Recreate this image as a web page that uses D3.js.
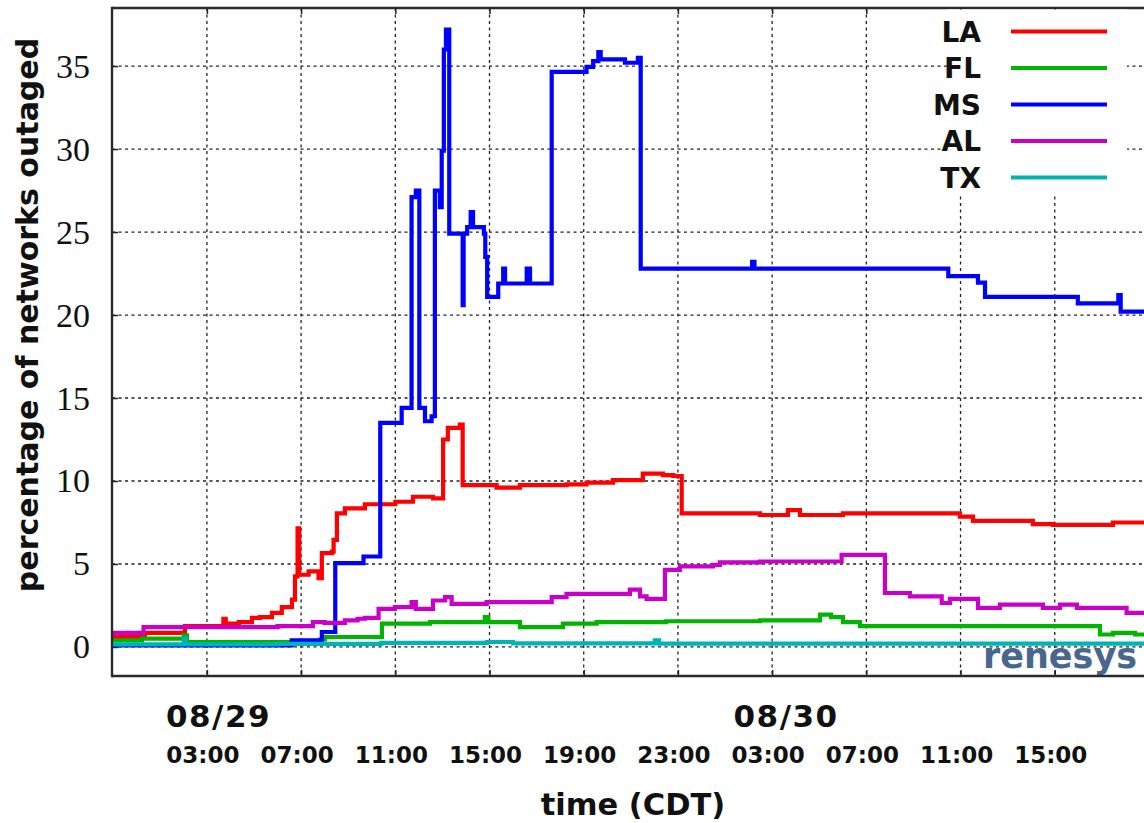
<!DOCTYPE html>
<html>
<head>
<meta charset="utf-8">
<script src="https://cdn.jsdelivr.net/npm/d3@7"></script>
<style>
  html, body { margin: 0; padding: 0; background: #fff; }
  svg { display: block; }
</style>
</head>
<body>
<svg id="chart" width="1144" height="823"></svg>
<script>
// ---- data: [hours since 2005-08-29 00:00 CDT, percent] (step after) ----
const seriesNames = ["LA", "FL", "MS", "AL", "TX"];
const seriesColors = ["#ff0000", "#00b400", "#0000ff", "#c800c8", "#00b4b4"];

const LA = [[-1.03,0.6],[0.37,0.85],[2.07,1.25],[3.7,1.7],[3.8,1.4],[4.36,1.5],[4.91,1.75],[5.25,1.8],[5.76,2.05],[6.18,2.4],[6.61,2.85],[6.74,4.25],[6.85,7.15],[6.92,4.35],[7.32,4.55],[7.74,4.15],[7.88,5.65],[8.31,5.75],[8.38,6.45],[8.52,8.05],[8.86,8.35],[9.71,8.6],[11.0,8.75],[11.75,9.05],[12.6,8.95],[13.03,12.5],[13.23,13.2],[13.74,13.4],[13.86,9.75],[15.3,9.6],[16.29,9.75],[18.27,9.8],[19.12,9.9],[20.24,10.05],[21.51,10.45],[22.36,10.35],[22.8,10.3],[23.16,8.05],[26.48,7.95],[27.67,8.25],[28.18,7.95],[30.01,8.05],[34.97,7.85],[35.53,7.6],[38.07,7.4],[38.93,7.35],[41.47,7.5],[42.79,7.5]];
const FL = [[-1.03,0.4],[0.24,0.5],[2.01,0.7],[2.15,0.3],[7.8,0.45],[8.01,0.6],[10.43,1.4],[12.47,1.5],[14.8,1.8],[14.95,1.5],[16.29,1.2],[18.12,1.4],[19.55,1.5],[22.5,1.55],[26.48,1.6],[29.03,1.95],[29.5,1.8],[30.01,1.5],[30.73,1.25],[40.92,0.75],[41.47,0.85],[42.41,0.75],[42.79,0.75]];
const MS = [[-1.03,0.1],[6.6,0.4],[7.88,0.9],[8.45,5.05],[9.65,5.45],[10.36,13.5],[11.27,14.4],[11.69,27.1],[11.87,27.5],[12.02,14.4],[12.26,13.6],[12.54,13.9],[12.68,27.5],[12.89,26.5],[12.97,29.9],[13.06,36.0],[13.15,37.2],[13.29,24.9],[13.86,20.6],[13.9,24.9],[14.05,25.3],[14.2,26.2],[14.3,25.3],[14.76,24.9],[14.82,23.5],[14.9,21.1],[15.37,21.9],[15.58,22.8],[15.66,21.9],[16.58,22.8],[16.72,21.9],[17.64,34.65],[19.12,34.95],[19.4,35.3],[19.62,35.85],[19.72,35.4],[20.75,35.2],[21.3,35.5],[21.42,22.8],[26.15,23.2],[26.25,22.8],[34.48,22.35],[35.74,21.95],[36.04,21.1],[39.98,20.7],[41.7,21.2],[41.8,20.2],[42.79,20.2]];
const AL = [[-1.03,0.85],[0.31,1.2],[6.0,1.25],[7.5,1.5],[8.0,1.45],[8.86,1.6],[9.4,1.7],[9.71,1.75],[10.29,2.3],[10.98,2.4],[11.69,2.7],[11.87,2.3],[12.6,2.8],[13.11,3.0],[13.39,2.6],[14.88,2.7],[17.64,3.0],[18.27,3.2],[20.96,3.45],[21.39,3.05],[21.67,2.9],[22.45,4.65],[23.08,4.85],[24.49,4.95],[24.78,5.1],[26.48,5.15],[29.95,5.55],[31.79,3.25],[32.85,3.05],[34.2,2.65],[34.55,2.9],[35.74,2.35],[36.67,2.55],[38.5,2.35],[39.22,2.55],[39.94,2.35],[42.05,2.05],[42.79,2.05]];
const TX = [[-1.03,0.15],[2.01,0.5],[2.1,0.15],[6.0,0.18],[10.4,0.25],[14.9,0.3],[16.0,0.22],[22.02,0.4],[22.2,0.2],[42.79,0.2]];
const seriesData = [LA, FL, MS, AL, TX];

const yTicks = [0, 5, 10, 15, 20, 25, 30, 35];
const xTickHours = [3, 7, 11, 15, 19, 23, 27, 31, 35, 39];
const dateLabelHours = [3.45, 27.55];
const xDomainHours = [-1.03, 42.79];
const yDomain = [-1.75, 38.5];

// ---- setup ----
const BASE = new Date(2005, 7, 29, 0, 0, 0);
const toDate = h => new Date(BASE.getTime() + h * 3600e3);

const L = 112, R = 1144, T = 8, B = 676;
const svg = d3.select("#chart");
const x = d3.scaleTime().domain(xDomainHours.map(toDate)).range([L, R]);
const y = d3.scaleLinear().domain(yDomain).range([B, T]);

svg.append("defs").append("clipPath").attr("id", "plotclip")
  .append("rect").attr("x", L).attr("y", T).attr("width", R - L).attr("height", B - T);

// grid
const grid = svg.append("g").attr("stroke", "#222").attr("stroke-width", 1.3)
  .attr("stroke-dasharray", "3,3.5");
grid.selectAll("line.h").data(yTicks).join("line")
  .attr("x1", L).attr("x2", R).attr("y1", d => y(d)).attr("y2", d => y(d));
grid.selectAll("line.v").data(xTickHours).join("line")
  .attr("y1", T).attr("y2", B).attr("x1", d => x(toDate(d))).attr("x2", d => x(toDate(d)));

// axes via d3
const xAxisBottom = d3.axisTop(x).tickValues(xTickHours.map(toDate)).tickSize(6).tickFormat("");
const xAxisTop = d3.axisBottom(x).tickValues(xTickHours.map(toDate)).tickSize(6).tickFormat("");
const yAxis = d3.axisRight(y).tickValues(yTicks).tickSize(6).tickFormat("");
const gB = svg.append("g").attr("transform", `translate(0,${B})`).call(xAxisBottom);
const gT = svg.append("g").attr("transform", `translate(0,${T})`).call(xAxisTop);
const gL = svg.append("g").attr("transform", `translate(${L},0)`).call(yAxis);
[gB, gT, gL].forEach(g => {
  g.select(".domain").remove();
  g.selectAll(".tick line").attr("stroke", "#222").attr("stroke-width", 1.5);
});

// watermark
svg.append("text").attr("x", 983).attr("y", 668)
  .attr("textLength", 154).attr("lengthAdjust", "spacingAndGlyphs")
  .attr("font-family", "DejaVu Sans").attr("font-weight", "bold").attr("font-size", 36)
  .attr("fill", "#48678f").text("renesys");

// series lines
const line = d3.line().x(d => x(toDate(d[0]))).y(d => y(d[1])).curve(d3.curveStepAfter);
const lines = svg.append("g").attr("clip-path", "url(#plotclip)");
seriesData.forEach((s, i) => {
  lines.append("path").datum(s).attr("d", line).attr("fill", "none")
    .attr("stroke", seriesColors[i]).attr("stroke-width", 4.2);
});

// border
const border = svg.append("g").attr("stroke", "#2a2a2a").attr("stroke-width", 2.4);
border.append("line").attr("x1", L).attr("x2", R).attr("y1", T).attr("y2", T);
border.append("line").attr("x1", L).attr("x2", R).attr("y1", B).attr("y2", B);
border.append("line").attr("x1", L).attr("x2", L).attr("y1", T - 1.2).attr("y2", B + 1.2);

// y tick labels
svg.append("g").selectAll("text").data(yTicks).join("text")
  .attr("x", 90).attr("y", d => y(d) + 11.5).attr("text-anchor", "end")
  .attr("font-family", "Liberation Serif").attr("font-size", 34).attr("fill", "#111")
  .text(d => d);

// x tick labels
const fmtTime = d3.timeFormat("%H:%M");
const fmtDate = d3.timeFormat("%m/%d");
svg.append("g").selectAll("text").data(xTickHours).join("text")
  .attr("x", d => x(toDate(d)) - 4).attr("y", 763).attr("text-anchor", "middle")
  .attr("font-family", "DejaVu Sans").attr("font-weight", "bold").attr("font-size", 23)
  .attr("fill", "#111").text(d => fmtTime(toDate(d)));
svg.append("g").selectAll("text").data(dateLabelHours).join("text")
  .attr("x", d => x(toDate(d)) + 1).attr("y", 727).attr("text-anchor", "middle")
  .attr("font-family", "DejaVu Sans").attr("font-weight", "bold").attr("font-size", 31)
  .attr("letter-spacing", 1.5)
  .attr("fill", "#111").text(d => fmtDate(toDate(d)));

// axis titles
svg.append("text").attr("x", 633).attr("y", 815).attr("text-anchor", "middle")
  .attr("font-family", "DejaVu Sans").attr("font-weight", "bold").attr("font-size", 30.5)
  .attr("fill", "#111").text("time (CDT)");
svg.append("text").attr("transform", "translate(38,315) rotate(-90)").attr("text-anchor", "middle")
  .attr("font-family", "DejaVu Sans").attr("font-weight", "bold").attr("font-size", 30)
  .attr("fill", "#111").text("percentage of networks outaged");

// legend (opaque key)
const leg = svg.append("g");
leg.append("rect").attr("x", 947).attr("y", T + 1.5).attr("width", 180).attr("height", 186).attr("fill", "#fff");
seriesNames.forEach((n, i) => {
  const cy = 31.5 + i * 36.5;
  leg.append("text").attr("x", 981).attr("y", cy + 10).attr("text-anchor", "end")
    .attr("font-family", "DejaVu Sans").attr("font-weight", "bold").attr("font-size", 28)
    .attr("fill", "#111").text(n);
  leg.append("line").attr("x1", 1011).attr("x2", 1107).attr("y1", cy).attr("y2", cy)
    .attr("stroke", seriesColors[i]).attr("stroke-width", 4);
});
</script>
</body>
</html>
